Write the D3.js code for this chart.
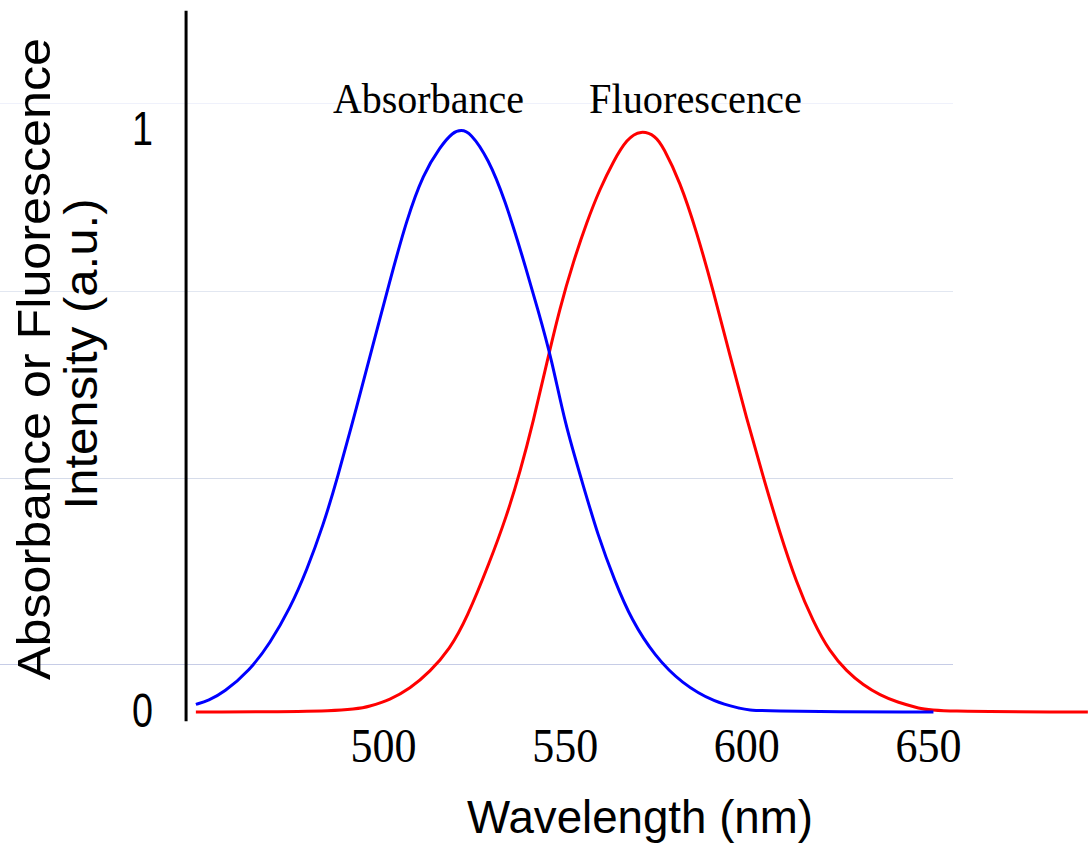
<!DOCTYPE html>
<html>
<head>
<meta charset="utf-8">
<script src="https://cdn.jsdelivr.net/npm/d3@7"></script>
<style>
  html, body { margin: 0; padding: 0; background: #fff; }
  svg { display: block; }
</style>
</head>
<body>
<svg id="chart" width="1088" height="846"></svg>
<script>
// ---- data ----
const absWavelength = [448.5, 452.0, 456.1, 463.4, 468.9, 474.4, 479.0, 483.6, 487.3, 492.8, 497.3, 501.9, 506.5, 511.1, 515.7, 519.3, 521.5, 523.9, 529.0, 533.6, 538.2, 542.7, 546.4, 550.1, 554.7, 559.2, 563.8, 568.4, 574.8, 582.2, 591.4, 598.7, 601.4, 651.5];
const absValues     = [0.013, 0.020, 0.033, 0.072, 0.118, 0.178, 0.243, 0.322, 0.398, 0.525, 0.632, 0.741, 0.846, 0.925, 0.971, 0.997, 1.000, 0.997, 0.951, 0.879, 0.787, 0.690, 0.607, 0.495, 0.398, 0.302, 0.225, 0.158, 0.096, 0.049, 0.016, 0.006, 0.001, 0.000];

const fluWavelength = [448.5, 490.9, 496.4, 501.9, 507.4, 512.9, 518.4, 523.0, 529.4, 534.0, 537.7, 541.4, 545.0, 548.7, 552.4, 556.1, 559.7, 563.4, 567.1, 571.0, 575.0, 577.1, 581.7, 586.3, 590.9, 595.5, 600.1, 604.6, 609.2, 613.8, 618.4, 623.0, 627.6, 632.2, 636.8, 641.4, 647.8, 651.5, 694.0];
const fluValues     = [0.000, 0.001, 0.010, 0.021, 0.040, 0.069, 0.108, 0.160, 0.258, 0.336, 0.412, 0.500, 0.598, 0.695, 0.774, 0.842, 0.899, 0.946, 0.985, 1.000, 0.990, 0.971, 0.912, 0.826, 0.724, 0.612, 0.504, 0.405, 0.308, 0.222, 0.155, 0.103, 0.070, 0.046, 0.029, 0.017, 0.006, 0.001, 0.000];

const xTickValues = [500, 550, 600, 650];
const xTickLabels = ["500", "550", "600", "650"];
const yTickValues = [0, 1];
const yTickLabels = ["0", "1"];
const gridValues  = [0.081, 0.402, 0.723, 1.045];
const gridColors  = ["#c6cce6", "#d6dcea", "#e2e7f1", "#eff1fb"];
const curveLabels = ["Absorbance", "Fluorescence"];
const curveLabelWavelength = [512.5, 586.0];
const xTitle = "Wavelength (nm)";
const yTitleLines = ["Absorbance or Fluorescence", "Intensity (a.u.)"];

// ---- scales ----
const x = d3.scaleLinear().domain([500, 650]).range([383, 928]);
const y = d3.scaleLinear().domain([0, 1]).range([712, 130]);
const plotLeftWl = 445.8;
const svg = d3.select("#chart");

// gridlines
svg.append("g").selectAll("line").data(gridValues).join("line")
  .attr("x1", x(394.6)).attr("x2", x(657))
  .attr("y1", d => y(d)).attr("y2", d => y(d))
  .attr("stroke", (d, i) => gridColors[i])
  .attr("stroke-width", 1)
  .attr("shape-rendering", "crispEdges");

// y axis line
svg.append("line")
  .attr("x1", x(plotLeftWl)).attr("x2", x(plotLeftWl))
  .attr("y1", y(1.205)).attr("y2", y(-0.016))
  .attr("stroke", "#000").attr("stroke-width", 3);

// y axis tick labels
const yAxis = d3.axisLeft(y).tickValues(yTickValues)
  .tickFormat((d, i) => yTickLabels[i]).tickSize(0).tickPadding(33);
const gy = svg.append("g").attr("transform", `translate(${x(plotLeftWl)},0)`).call(yAxis);
gy.select(".domain").remove();
gy.selectAll("text")
  .attr("font-family", "Liberation Sans, Arial, sans-serif")
  .attr("font-size", 48).attr("fill", "#000").attr("dy", "0.3em")
  .attr("textLength", 21).attr("lengthAdjust", "spacingAndGlyphs");

// x axis tick labels
const xAxis = d3.axisBottom(x).tickValues(xTickValues)
  .tickFormat((d, i) => xTickLabels[i]).tickSize(0).tickPadding(16);
const gx = svg.append("g").attr("transform", `translate(0,${y(0)})`).call(xAxis);
gx.select(".domain").remove();
gx.selectAll("text")
  .attr("font-family", "Liberation Serif, Times New Roman, serif")
  .attr("font-size", 48).attr("fill", "#000")
  .attr("textLength", 66).attr("lengthAdjust", "spacingAndGlyphs");

// curves
const line = d3.line().x(d => x(d[0])).y(d => y(d[1])).curve(d3.curveBasis);
const fluData = fluWavelength.map((w, i) => [w, fluValues[i]]);
const absData = absWavelength.map((w, i) => [w, absValues[i]]);
svg.append("path").datum(fluData).attr("d", line)
  .attr("fill", "none").attr("stroke", "#ff0000").attr("stroke-width", 3);
svg.append("path").datum(absData).attr("d", line)
  .attr("fill", "none").attr("stroke", "#0000ff").attr("stroke-width", 3);

// curve labels
const labelLengths = [191, 213];
svg.append("g").selectAll("text").data(curveLabels).join("text")
  .attr("x", (d, i) => x(curveLabelWavelength[i]))
  .attr("y", y(1.03))
  .attr("text-anchor", "middle")
  .attr("font-family", "Liberation Serif, Times New Roman, serif")
  .attr("font-size", 43).attr("fill", "#000")
  .attr("textLength", (d, i) => labelLengths[i]).attr("lengthAdjust", "spacingAndGlyphs")
  .text(d => d);

// x title
svg.append("text")
  .attr("x", 640).attr("y", 833)
  .attr("text-anchor", "middle")
  .attr("font-family", "Liberation Sans, Arial, sans-serif")
  .attr("font-size", 46).attr("fill", "#000")
  .attr("textLength", 346).attr("lengthAdjust", "spacingAndGlyphs")
  .text(xTitle);

// y title (two rotated lines)
const yTitlePos = [[50, 359, 642], [97, 354, 311]];
svg.append("g").selectAll("text").data(yTitleLines).join("text")
  .attr("transform", (d, i) => `translate(${yTitlePos[i][0]},${yTitlePos[i][1]}) rotate(-90)`)
  .attr("text-anchor", "middle")
  .attr("font-family", "Liberation Sans, Arial, sans-serif")
  .attr("font-size", 46).attr("fill", "#000")
  .attr("textLength", (d, i) => yTitlePos[i][2]).attr("lengthAdjust", "spacingAndGlyphs")
  .text(d => d);
</script>
</body>
</html>
